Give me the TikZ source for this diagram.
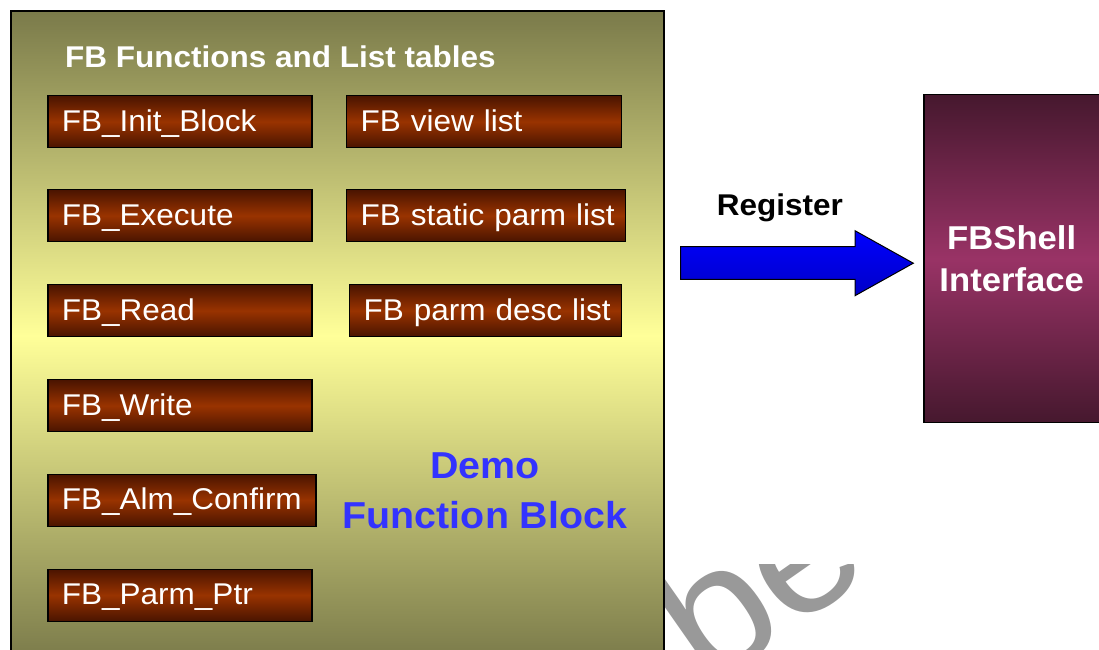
\documentclass[tikz,border=0pt]{standalone}
\usepackage{fontspec}
\setmainfont[FakeStretch=1.05]{Liberation Sans}

\definecolor{olivedark}{RGB}{122,122,74}
\definecolor{paleyellow}{RGB}{255,255,153}
\definecolor{brickdark}{RGB}{74,20,0}
\definecolor{brick}{RGB}{153,51,0}
\definecolor{plumdark}{RGB}{70,24,46}
\definecolor{plum}{RGB}{153,51,102}
\definecolor{demoblue}{RGB}{51,51,255}
\definecolor{wmgray}{RGB}{153,153,153}

\begin{document}
\begin{tikzpicture}[x=1pt,y=-1pt,
  fnbox/.style={draw=black, line width=1.3pt,
    top color=brickdark, bottom color=brickdark, middle color=brick,
    text=white, font=\fontsize{30}{36}\selectfont,
    minimum height=52pt, inner xsep=14pt, inner ysep=0pt,
    text height=25pt, text depth=6pt, align=left, anchor=north west},
  boldtext/.style={inner sep=0pt, font=\bfseries\fontsize{30}{36}\selectfont},
  regarrow/.style={draw=black, line width=1pt, line join=miter,
    top color=blue, bottom color=blue!78!black},
]
\useasboundingbox (0,0) rectangle (1099,649);
\clip (0,0) rectangle (1099,649);

% faint watermark letters in the lower middle
\begin{scope}
  \clip (663,564) rectangle (1099,649);
  \node[rotate=35, text=wmgray, font=\fontsize{175}{175}\selectfont,
        anchor=base west, inner sep=0pt] (wmark) at (707,690) {be};
\end{scope}

% the function block container
\node[draw=black, line width=1.5pt, anchor=north west, inner sep=0pt,
      top color=olivedark, bottom color=olivedark, middle color=paleyellow,
      minimum width=653pt, minimum height=650pt] (fbblock) at (10,10) {};

\node[boldtext, text=white, anchor=base west] (title) at (65,67)
  {FB Functions and List tables};

% function entry points
\node[fnbox, text width=236pt] (init)  at (47.3,95)  {FB\_Init\_Block};
\node[fnbox, text width=236pt] (exec)  at (47.3,189) {FB\_Execute};
\node[fnbox, text width=236pt] (read)  at (47.3,284) {FB\_Read};
\node[fnbox, text width=236pt] (write) at (47.3,379) {FB\_Write};
\node[fnbox, text width=240pt] (alm)   at (47.3,473.5) {FB\_Alm\_Confirm};
\node[fnbox, text width=236pt] (pptr)  at (47.3,568.5) {FB\_Parm\_Ptr};

% list tables
\node[fnbox, text width=247pt] (view)   at (346,95)  {\mbox{FB view list}};
\node[fnbox, text width=251pt] (static) at (346,189) {\mbox{FB static parm list}};
\node[fnbox, text width=244pt] (desc)   at (349,284) {\mbox{FB parm desc list}};

\node[text=demoblue, font=\bfseries\fontsize{37.5}{50}\selectfont,
      align=center, inner sep=0pt] (demo) at (485,490.6)
  {Demo\\Function Block};

% shell interface
\node[draw=black, line width=1.3pt, anchor=north west, inner sep=0pt,
      top color=plumdark, bottom color=plumdark, middle color=plum,
      minimum width=175.5pt, minimum height=327.7pt,
      text=white, font=\bfseries\fontsize{33}{42}\selectfont, align=center]
  (shell) at (923.3,94) {FBShell\\Interface};

% registration arrow
\node[boldtext, anchor=base west] (reglabel) at (716.7,215) {Register};
\draw[regarrow] (680.7,246.7) -- (855,246.7) -- (855,230.7) -- (913.3,263.2)
  -- (855,295.7) -- (855,279.3) -- (680.7,279.3) -- cycle;
\end{tikzpicture}
\end{document}
